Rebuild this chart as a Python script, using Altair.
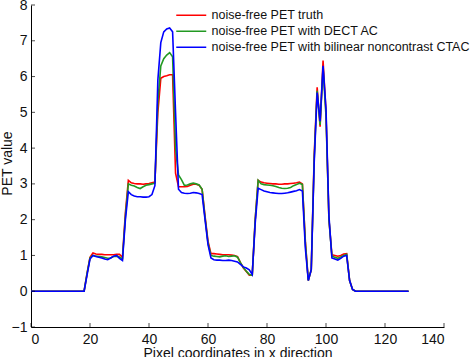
import altair as alt
import pandas as pd

x_vals = list(range(129))

truth = [0.0]*19 + [
    0.5, 0.95, 1.07, 1.04, 1.03, 1.03, 1.02, 1.02, 1.02, 1.02, 1.03, 1.03,  # 19-30
    0.95, 2.2, 3.1, 3.03, 3.01, 3.0, 3.0, 2.99, 3.0, 3.01, 3.03, 3.05,      # 31-42
    5.0, 5.95, 6.0, 6.02, 6.05, 6.05, 3.3,                                  # 43-49
    2.92, 2.92, 2.92, 2.93, 2.96, 2.99, 2.99, 2.96, 2.85, 2.1, 1.4,          # 50-60
    1.05, 1.05, 1.04, 1.03, 1.02, 1.02, 1.02, 1.01, 1.0, 0.97,               # 61-70
    0.8, 0.65, 0.55, 0.45, 0.45, 2.0,                                       # 71-76
    3.1, 3.05, 3.03, 3.02, 3.01, 3.0, 3.0, 2.99, 2.99, 3.0, 3.0, 3.01,       # 77-88
    3.02, 3.03, 3.05, 3.0, 1.4, 0.3, 0.6, 3.8, 5.7, 4.6, 6.45, 5.0, 2.0,     # 89-101
    1.02, 1.0, 0.98, 1.0, 1.04, 1.05, 0.3, 0.05,                            # 102-109
] + [0.0]*19

dect = [0.0]*19 + [
    0.5, 0.93, 1.0, 0.98, 0.97, 0.96, 0.94, 0.92, 0.93, 0.97, 0.98, 0.96,
    0.9, 2.1, 3.0, 2.96, 2.94, 2.9, 2.87, 2.92, 2.96, 2.98, 3.0, 3.02,
    5.3, 6.3, 6.5, 6.6, 6.67, 6.55, 4.0,
    3.25, 3.12, 2.96, 2.97, 3.0, 3.02, 3.0, 2.97, 2.85, 2.05, 1.35,
    1.0, 0.98, 0.97, 0.96, 0.98, 0.99, 0.97, 0.98, 0.99, 0.95,
    0.8, 0.66, 0.56, 0.47, 0.45, 2.0,
    3.1, 3.0, 2.98, 2.97, 2.96, 2.95, 2.93, 2.9, 2.88, 2.87, 2.88, 2.9,
    2.95, 2.98, 3.02, 2.98, 1.35, 0.3, 0.6, 3.7, 5.6, 4.65, 6.25, 4.9, 2.0,
    0.98, 0.95, 0.92, 0.96, 1.0, 1.03, 0.3, 0.05,
] + [0.0]*19

bilinear = [0.0]*19 + [
    0.45, 0.9, 1.0, 0.97, 0.95, 0.93, 0.9, 0.88, 0.93, 0.98, 1.0, 0.92,
    0.86, 2.0, 2.78, 2.7, 2.66, 2.64, 2.64, 2.63, 2.63, 2.64, 2.7, 2.95,
    5.9, 6.95, 7.25, 7.33, 7.36, 7.25, 5.0,
    2.85, 2.76, 2.74, 2.73, 2.74, 2.76, 2.75, 2.73, 2.7, 2.0, 1.3,
    0.93, 0.88, 0.87, 0.87, 0.86, 0.86, 0.87, 0.86, 0.84, 0.82,
    0.75, 0.68, 0.65, 0.6, 0.47, 1.9,
    2.88, 2.84, 2.8, 2.78, 2.76, 2.75, 2.74, 2.73, 2.73, 2.74, 2.75, 2.77,
    2.79, 2.81, 2.84, 2.8, 1.2, 0.3, 0.6, 3.6, 5.55, 4.75, 6.3, 5.1, 2.1,
    0.93, 0.9, 0.87, 0.92, 0.98, 1.0, 0.3, 0.05,
] + [0.0]*19

series_names = [
    "noise-free PET truth",
    "noise-free PET with DECT AC",
    "noise-free PET with bilinear noncontrast CTAC",
]
series_colors = ["#ff0000", "#229922", "#0000ff"]

x_ticks = [0, 20, 40, 60, 80, 100, 120, 140]
y_ticks = [-1, 0, 1, 2, 3, 4, 5, 6, 7, 8]

rows = []
for i, (name, vals) in enumerate(zip(series_names, [truth, dect, bilinear])):
    for xv, yv in zip(x_vals, vals):
        rows.append({"x": xv, "value": yv, "series": name, "order": i})
df = pd.DataFrame(rows)

FONT = "Liberation Sans"

xscale = alt.Scale(domain=[0, 140], nice=False, zero=False)
yscale = alt.Scale(domain=[-1, 8], nice=False, zero=False)

xaxis = alt.Axis(values=x_ticks, title="Pixel coordinates in x direction",
                 tickSize=0, labelPadding=5, titlePadding=0, grid=False,
                 labelOverlap=False, labelFontSize=14, titleFontSize=14,
                 titleFontWeight="normal", labelFont=FONT, titleFont=FONT,
                 titleY=19)
yaxis = alt.Axis(values=y_ticks, title="PET value", tickSize=0,
                 labelPadding=4, titlePadding=0, grid=False,
                 labelOverlap=False, labelFontSize=14, titleFontSize=14,
                 titleFontWeight="normal", labelFont=FONT, titleFont=FONT,
                 titleX=-17, titleY=158)

lines = alt.Chart(df).mark_line(strokeWidth=1.6).encode(
    x=alt.X("x:Q", scale=xscale, axis=xaxis, title="Pixel coordinates in x direction"),
    y=alt.Y("value:Q", scale=yscale, axis=yaxis, title="PET value"),
    color=alt.Color("series:N",
                    scale=alt.Scale(domain=series_names, range=series_colors),
                    legend=alt.Legend(orient="none", legendX=154, legendY=4,
                                      title=None, symbolType="M-3,0H3",
                                      symbolSize=100, symbolStrokeWidth=1.5,
                                      labelFontSize=12.5, labelFont=FONT,
                                      labelOffset=14, rowPadding=3, padding=0,
                                      labelLimit=0, labelColor="#111111")),
    order="order:Q",
)

xt_df = pd.DataFrame({"t": x_ticks})
yt_df = pd.DataFrame({"t": y_ticks})

xticks_layer = alt.Chart(xt_df).mark_tick(orient="vertical", size=4, thickness=1,
                                          color="black", yOffset=-2).encode(
    x=alt.X("t:Q", scale=xscale, axis=xaxis, title="Pixel coordinates in x direction"),
    y=alt.YDatum(-1, scale=yscale, axis=yaxis, title="PET value"))
yticks_layer = alt.Chart(yt_df).mark_tick(orient="horizontal", size=4, thickness=1,
                                          color="black", xOffset=2).encode(
    y=alt.Y("t:Q", scale=yscale, axis=yaxis, title="PET value"),
    x=alt.XDatum(0, scale=xscale, axis=xaxis, title="Pixel coordinates in x direction"))

chart = alt.layer(lines, xticks_layer, yticks_layer).properties(
    width=413, height=322,
    autosize=alt.AutoSizeParams(type="none"),
    padding={"left": 31, "top": 5, "right": 30, "bottom": 30},
    background="white",
).configure_view(stroke=None).configure_axis(
    labelColor="#111111", titleColor="#111111",
    domainColor="black", domainWidth=1,
)

chart.save("out.html", embed_options={"renderer": "svg", "actions": False})
